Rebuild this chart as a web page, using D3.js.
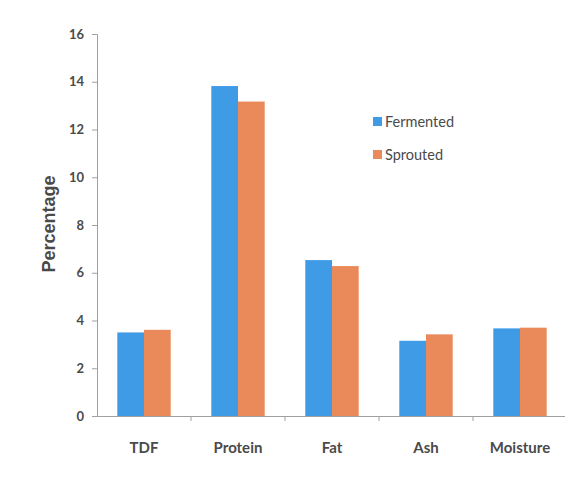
<!DOCTYPE html>
<html><head><meta charset="utf-8">
<script src="https://cdn.jsdelivr.net/npm/d3@7"></script>
<style>body{margin:0;background:#fff}svg{display:block}</style>
</head><body>
<svg id="c" width="565" height="489"></svg>
<script>
const categories = ["TDF", "Protein", "Fat", "Ash", "Moisture"];
const seriesNames = ["Fermented", "Sprouted"];
const fermented = [3.5, 13.82, 6.53, 3.15, 3.67];
const sprouted = [3.61, 13.17, 6.28, 3.42, 3.70];
const yTicks = [0, 2, 4, 6, 8, 10, 12, 14, 16];
const colors = ["#3f9be6", "#ea8a5b"];

const svg = d3.select("#c");
const x0 = 97, x1 = 567, yb = 416, yt = 34;
const x = d3.scaleBand().domain(categories).range([x0, x1]).paddingInner(0).paddingOuter(0);
const xs = d3.scaleBand().domain(seriesNames).range([0, x.bandwidth()]).paddingInner(0).paddingOuter(0.76);
const y = d3.scaleLinear().domain([0, 16]).range([yb, yt]);
const series = [fermented, sprouted];

// bars
seriesNames.forEach((s, si) => {
  svg.append("g").selectAll("rect").data(categories).join("rect")
    .attr("x", c => x(c) + xs(s))
    .attr("width", xs.bandwidth())
    .attr("y", (c, i) => y(series[si][i]))
    .attr("height", (c, i) => yb - y(series[si][i]))
    .attr("fill", colors[si]);
});

// y axis
const ya = svg.append("g").attr("transform", `translate(${x0},0)`)
  .call(d3.axisLeft(y).tickValues(yTicks).tickSize(5).tickPadding(8).tickFormat(d3.format("d")));
ya.select(".domain").attr("stroke", "#a0a0a0");
ya.selectAll(".tick line").attr("stroke", "#a0a0a0");
ya.selectAll("text").attr("font-family", "Lato, 'Open Sans', sans-serif").attr("font-weight", "bold")
  .attr("font-size", 13).attr("fill", "#4a4a4a");

// x axis
const xa = svg.append("g").attr("transform", `translate(0,${yb})`)
  .call(d3.axisBottom(x).tickSize(0).tickPadding(26));
xa.select(".domain").attr("stroke", "#a0a0a0");
xa.selectAll("text").attr("font-family", "Lato, 'Open Sans', sans-serif").attr("font-weight", "bold")
  .attr("font-size", 15).attr("fill", "#4a4a4a");
svg.append("g").selectAll("line").data(categories.slice(1)).join("line")
  .attr("x1", c => x(c)).attr("x2", c => x(c))
  .attr("y1", yb).attr("y2", yb + 5).attr("stroke", "#a0a0a0");

// y label
svg.append("text").attr("transform", "translate(55,224) rotate(-90)")
  .attr("text-anchor", "middle").attr("font-family", "Arial, 'Liberation Sans', sans-serif")
  .attr("font-weight", "bold").attr("font-size", 18).attr("fill", "#4a4a4a").text("Percentage");

// legend
const lg = svg.append("g");
seriesNames.forEach((s, i) => {
  const ly = 122 + i * 33;
  lg.append("rect").attr("x", 373).attr("y", ly - 5).attr("width", 9).attr("height", 9).attr("fill", colors[i]);
  lg.append("text").attr("x", 385).attr("y", ly).attr("dy", "0.35em")
    .attr("font-family", "Lato, 'Open Sans', sans-serif").attr("font-size", 14.5).attr("fill", "#4a4a4a").text(s);
});
</script>
</body></html>
